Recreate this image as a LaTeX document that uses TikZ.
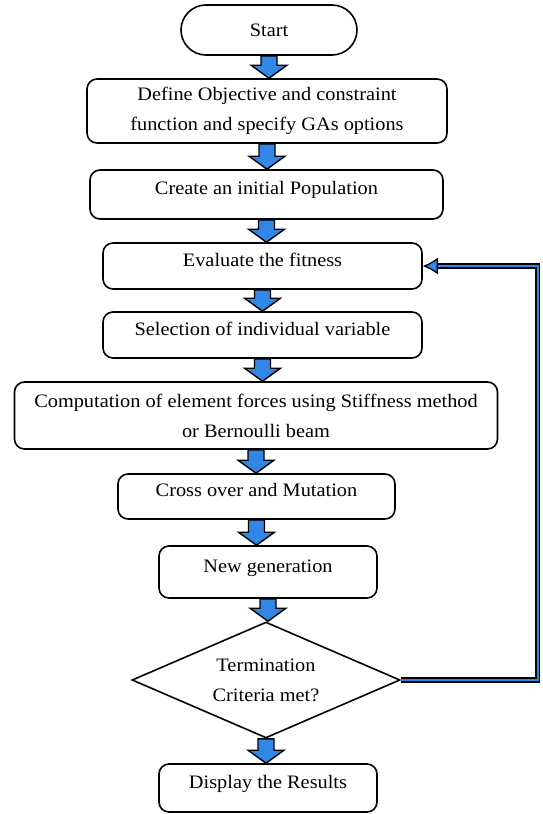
\documentclass[tikz,border=0pt]{standalone}
\usepackage{fontspec}
\setmainfont[FakeStretch=1.07]{Liberation Serif}
\usepackage{tikz}
\usetikzlibrary{shapes.geometric}
\usetikzlibrary{arrows.meta}
\usetikzlibrary{calc}

\definecolor{flowblue}{RGB}{50,135,230}

% fat blue arrow from the bottom of one node to the top of the next
\newcommand{\blockarrow}[2]{%
  \path[draw=black,line width=1.4pt,fill=flowblue,line join=miter]
    let \p1=(#1.south), \p2=(#2.north) in
    (\x1-8pt,\y1) -- (\x1+8pt,\y1) -- (\x1+8pt,\y2+13pt) -- (\x1+18pt,\y2+13pt)
    -- (\x1,\y2) -- (\x1-18pt,\y2+13pt) -- (\x1-8pt,\y2+13pt) -- cycle;}

\begin{document}
\begin{tikzpicture}[x=1pt,y=1pt,font=\fontsize{19}{30}\selectfont]
      \useasboundingbox (0,0) rectangle (542,-814);
      \node[draw,line width=1.6pt,rounded corners=25pt,minimum width=176pt,minimum height=50pt] (start) at (269,-30) {Start};
      \begin{scope}[every node/.style={draw,line width=1.6pt,rounded corners=10pt,align=center,inner sep=0pt}]
        \node[minimum width=360pt,minimum height=64pt] (define) at (267,-111) {Define Objective and constraint\\function and specify GAs options};
        \node[minimum width=353pt,minimum height=49pt,text height=12pt,text depth=12pt] (init) at (266.5,-194.5) {Create an initial Population};
        \node[minimum width=319pt,minimum height=46pt,text height=12pt,text depth=12pt] (eval) at (262.5,-266) {Evaluate the fitness};
        \node[minimum width=319pt,minimum height=46pt,text height=12pt,text depth=12pt] (select) at (262.5,-335) {Selection of individual variable};
        \node[minimum width=483pt,minimum height=67pt] (compute) at (256,-415.5) {Computation of element forces using Stiffness method\\or Bernoulli beam};
        \node[minimum width=277pt,minimum height=45pt,text height=12pt,text depth=12pt] (cross) at (256.5,-496.5) {Cross over and Mutation};
        \node[minimum width=218pt,minimum height=52pt,text height=12pt,text depth=12pt] (newgen) at (268,-572) {New generation};
        \node[minimum width=218pt,minimum height=48pt,text height=12pt,text depth=12pt] (display) at (268,-788) {Display the Results};
      \end{scope}
      \node[diamond,draw,line width=1.6pt,aspect=2.3,minimum width=268pt,minimum height=116pt,inner sep=0pt,align=center] (term) at (266,-680) {Termination\\Criteria met?};
      \coordinate (loop) at ($(eval.east)+(115,0)$);
      \blockarrow{start}{define}
      \blockarrow{define}{init}
      \blockarrow{init}{eval}
      \blockarrow{eval}{select}
      \blockarrow{select}{compute}
      \blockarrow{compute}{cross}
      \blockarrow{cross}{newgen}
      \blockarrow{newgen}{term}
      \blockarrow{term}{display}
      \draw[line width=1.3pt,double=flowblue,double distance=2.6pt,line join=miter,-{Latex[length=15pt,width=17pt,fill=flowblue,line width=1.3pt]}] (term.east) -| (loop) -- (eval.east);
    \end{tikzpicture}
\end{document}
